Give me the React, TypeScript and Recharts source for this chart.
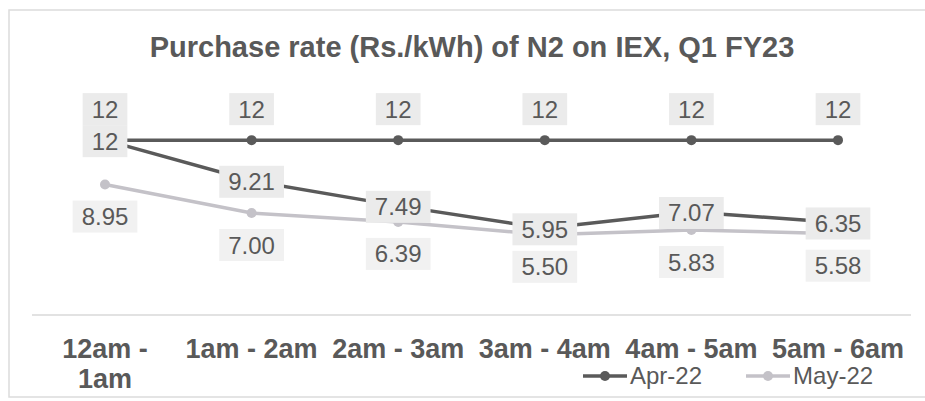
import React from "react";
import { LineChart, Line, XAxis, YAxis, Legend, LabelList } from "recharts";

// hourly slots, Q1 FY23
const categories = ["12am - 1am", "1am - 2am", "2am - 3am", "3am - 4am", "4am - 5am", "5am - 6am"];
const apr22 = [12, 12, 12, 12, 12, 12];
const may22 = [8.95, 7.0, 6.39, 5.5, 5.83, 5.58];
// third series (its legend entry is cut off in the source)
const jun22 = [12, 9.21, 7.49, 5.95, 7.07, 6.35];
const legendOrder = ["Apr-22", "May-22"];

const data = categories.map((slot, i) => ({ slot, apr: apr22[i], may: may22[i], jun: jun22[i] }));

const FONT = '"Liberation Sans", Arial, sans-serif';
const INK = "#595959";
const DARK = "#5a5a5a";
const LIGHT = "#c4c2c8";

const general = (v: number) => (Number.isInteger(v) ? String(v) : v.toFixed(2));
const fixed2 = (v: number) => v.toFixed(2);

const textWidth = (s: string, size: number) =>
  [...s].reduce((w, c) => w + (c === "." ? 0.278 : 0.556), 0) * size;

// rough Arial Bold advance widths, em units
const boldW: Record<string, number> = { m: 0.889, " ": 0.278, "-": 0.333 };
const boldWidth = (s: string, size: number) =>
  [...s].reduce((w, c) => w + (boldW[c] ?? 0.556), 0) * size;

function wrap(s: string, max: number, size: number) {
  const lines: string[] = [];
  let cur = "";
  for (const word of s.split(" ")) {
    const next = cur ? cur + " " + word : word;
    if (cur && boldWidth(next, size) > max) {
      lines.push(cur);
      cur = word;
    } else cur = next;
  }
  if (cur) lines.push(cur);
  return lines;
}

function makeLabel(dy: number, fmt: (v: number) => string, boxFill: string) {
  return (props: any) => {
    const { x, y, value } = props;
    if (value == null) return null;
    const s = fmt(Number(value));
    const w = textWidth(s, 24) + 18;
    const cy = y + dy;
    return (
      <g>
        <rect x={x - w / 2} y={cy - 16} width={w} height={32} fill={boxFill} />
        <text
          x={x}
          y={cy}
          textAnchor="middle"
          dominantBaseline="central"
          fill={INK}
          style={{ fontFamily: FONT, fontSize: 24 }}
        >
          {s}
        </text>
      </g>
    );
  };
}

function SlotTick({ x, y, payload }: any) {
  const lines = wrap(String(payload.value), 140, 27);
  return (
    <text x={x} y={y} textAnchor="middle" fill={INK} style={{ fontFamily: FONT, fontSize: 27, fontWeight: 700 }}>
      {lines.map((l, i) => (
        <tspan key={i} x={x} y={y + 35 + i * 30}>
          {l}
        </tspan>
      ))}
    </text>
  );
}

function LegendContent({ payload }: any) {
  const items = legendOrder
    .map((n) => (payload || []).find((p: any) => p.value === n))
    .filter(Boolean);
  return (
    <div style={{ display: "flex", gap: 44, alignItems: "center", fontFamily: FONT, fontSize: 24, lineHeight: "28px", color: INK }}>
      {items.map((p: any) => (
        <div key={p.value} style={{ display: "flex", alignItems: "center" }}>
          <svg width={44} height={12}>
            <line x1={0} y1={6} x2={44} y2={6} stroke={p.color} strokeWidth={3.5} />
            <circle cx={22} cy={6} r={5} fill={p.color} />
          </svg>
          <span style={{ marginLeft: 3 }}>{p.value}</span>
        </div>
      ))}
    </div>
  );
}

export default function App() {
  return (
    <div style={{ position: "absolute", left: 0, top: 0, width: 925, height: 401, background: "#fff" }}>
      <svg width={925} height={401} style={{ position: "absolute", left: 0, top: 0 }}>
        <polyline points="925,10 9,10 9,397 925,397" fill="none" stroke="#dcdcdc" strokeWidth={1.5} />
        <text x={472} y={57} textAnchor="middle" fill={INK} style={{ fontFamily: FONT, fontSize: 29, fontWeight: 700 }}>
          Purchase rate (Rs./kWh) of N2 on IEX, Q1 FY23
        </text>
      </svg>
      <div style={{ position: "absolute", left: 0, top: 0 }}>
        <LineChart width={925} height={401} data={data} margin={{ top: 111, right: 14, left: 32, bottom: 0 }}>
          <XAxis
            dataKey="slot"
            height={86}
            tickLine={false}
            padding={{ left: 73, right: 73 }}
            axisLine={{ stroke: "#d9d9d9", strokeWidth: 1.5 }}
            tick={<SlotTick />}
            interval={0}
          />
          <YAxis hide domain={[0, 14]} />
          <Legend
            layout="horizontal"
            verticalAlign="middle"
            align="center"
            content={<LegendContent />}
            wrapperStyle={{ left: 583, top: 362, width: "auto", height: "auto" }}
          />
          <Line
            dataKey="may"
            name="May-22"
            stroke={LIGHT}
            strokeWidth={3.5}
            dot={{ r: 5, fill: LIGHT, stroke: LIGHT, strokeWidth: 0 }}
            isAnimationActive={false}
          >
            <LabelList dataKey="may" content={makeLabel(32, fixed2, "#f1f1f1")} />
          </Line>
          <Line
            dataKey="apr"
            name="Apr-22"
            stroke={DARK}
            strokeWidth={3.5}
            dot={{ r: 5, fill: DARK, stroke: DARK, strokeWidth: 0 }}
            isAnimationActive={false}
          >
            <LabelList dataKey="apr" content={makeLabel(-31, general, "#ebebeb")} />
          </Line>
          <Line
            dataKey="jun"
            name="Jun-22"
            legendType="none"
            stroke={DARK}
            strokeWidth={3.5}
            dot={{ r: 5, fill: DARK, stroke: DARK, strokeWidth: 0 }}
            isAnimationActive={false}
          >
            <LabelList dataKey="jun" content={makeLabel(1, general, "#ebebeb")} />
          </Line>
        </LineChart>
      </div>
    </div>
  );
}
